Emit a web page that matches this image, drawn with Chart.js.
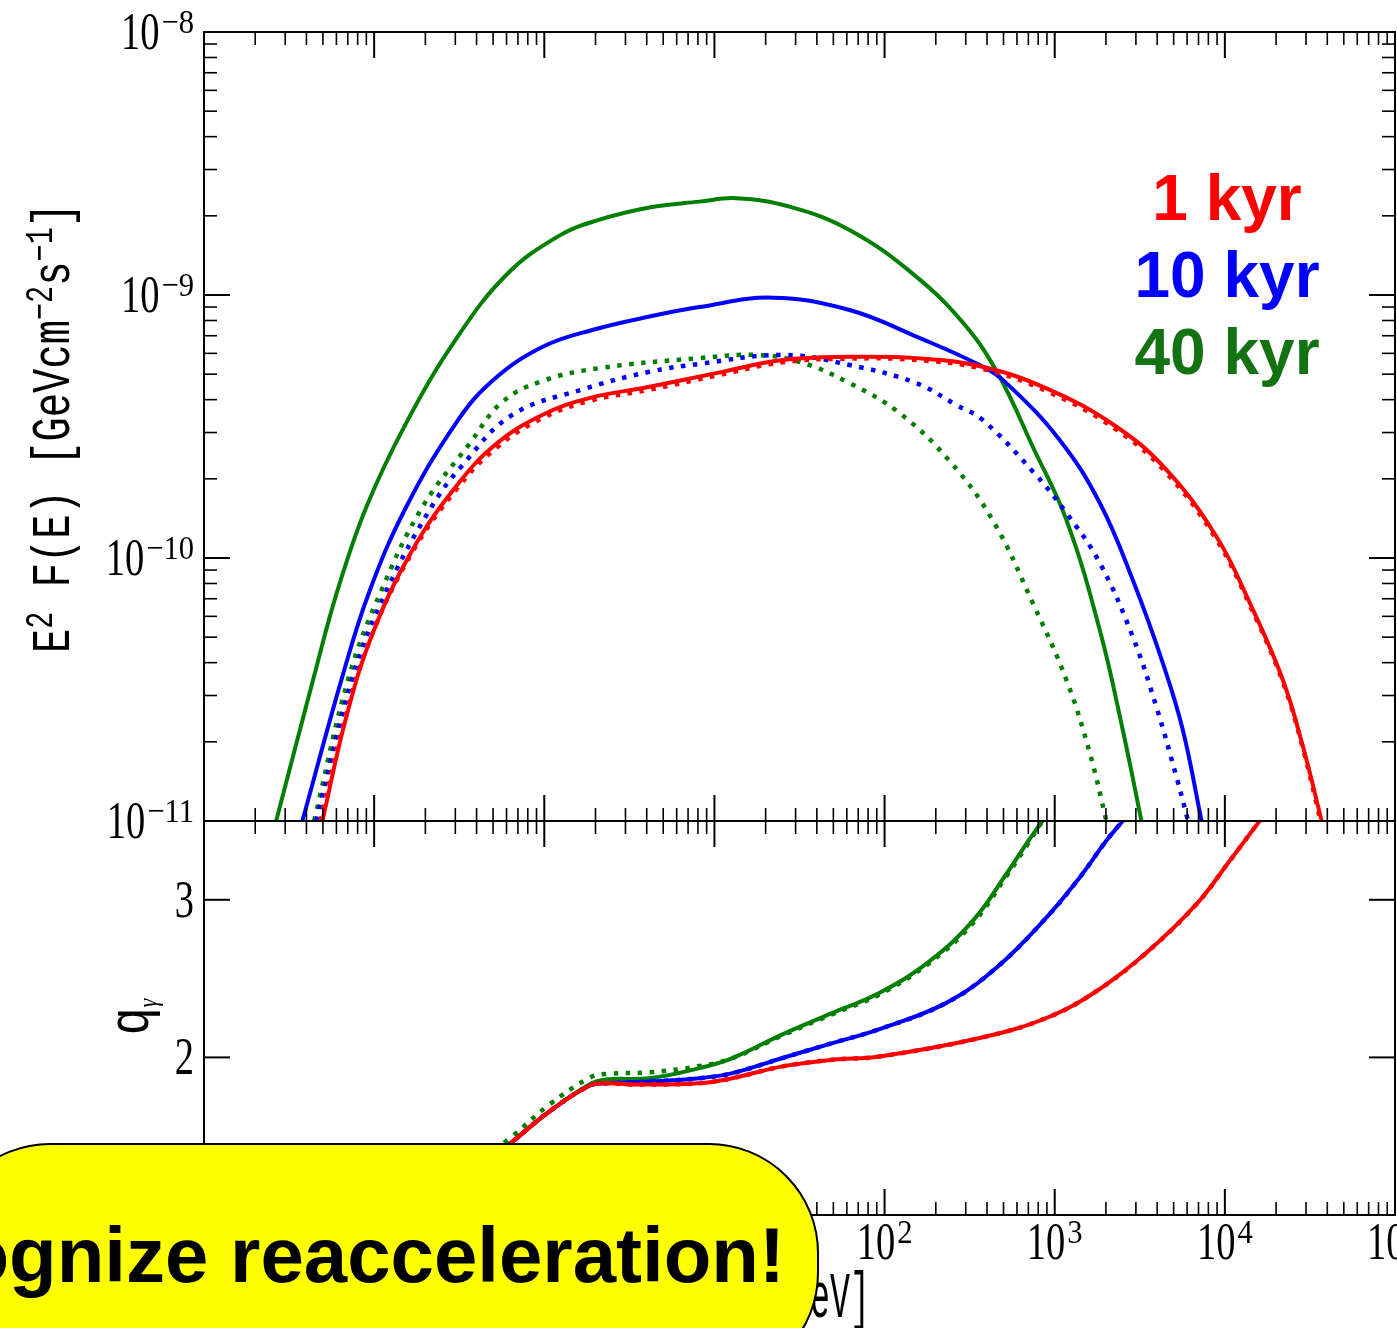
<!DOCTYPE html>
<html>
<head>
<meta charset="utf-8">
<script src="https://cdn.jsdelivr.net/npm/chart.js@4.4.1/dist/chart.umd.min.js"></script>
<style>
  html, body { margin: 0; padding: 0; background: #fff; width: 1397px; height: 1328px; overflow: hidden; }
  canvas { position: absolute; left: 0; top: 0; }
  #callout {
    position: absolute; left: -60px; top: 1143px; width: 879px; height: 240px;
    box-sizing: border-box; background: #ffff00; border: 2px solid #000;
    border-radius: 110px; z-index: 5;
  }
  #calloutText {
    position: absolute; right: 612px; top: 1216px; z-index: 6; color: #000;
    font: bold 78px/78px "Liberation Sans", Arial, sans-serif; white-space: nowrap;
  }
</style>
</head>
<body>
<canvas id="spectrum" width="1397" height="1328"></canvas>
<canvas id="slope" width="1397" height="1328"></canvas>
<div id="callout"></div>
<div id="calloutText">recognize reacceleration!</div>
<script>
// ---- data: log10(E / GeV) and log10(E^2 F) ----
const redSolidE   = [-1.304, -1.166, -1.010, -0.775, -0.519, -0.284, -0.012, 0.265, 0.618, 1.010, 1.400, 1.794, 2.186, 2.576, 2.971, 3.363, 3.657, 3.951, 4.147, 4.341, 4.459, 4.569];
const redSolidF   = [-11.0, -10.610, -10.289, -9.970, -9.728, -9.567, -9.456, -9.392, -9.349, -9.297, -9.247, -9.235, -9.240, -9.273, -9.361, -9.501, -9.665, -9.919, -10.171, -10.464, -10.717, -11.0];
const redDotE     = [-1.315, -1.175, -1.018, -0.782, -0.520, -0.280, -0.010, 0.265, 0.618, 1.010, 1.400, 1.794, 2.186, 2.576, 2.971, 3.363, 3.657, 3.951, 4.147, 4.341, 4.459, 4.563];
const redDotF     = [-11.0, -10.620, -10.300, -9.985, -9.742, -9.580, -9.468, -9.403, -9.360, -9.307, -9.256, -9.242, -9.247, -9.281, -9.371, -9.512, -9.677, -9.930, -10.180, -10.472, -10.725, -11.0];
const blueSolidE  = [-1.422, -1.186, -1.029, -0.813, -0.519, -0.306, -0.012, 0.282, 0.618, 0.912, 1.341, 1.794, 2.186, 2.576, 2.716, 3.029, 3.265, 3.459, 3.635, 3.753, 3.863];
const blueSolidF  = [-11.0, -10.449, -10.129, -9.808, -9.487, -9.327, -9.198, -9.133, -9.082, -9.046, -9.010, -9.057, -9.158, -9.272, -9.335, -9.551, -9.791, -10.084, -10.399, -10.654, -11.0];
const blueDotE    = [-1.341, -1.124, -0.931, -0.665, -0.482, -0.188, 0.224, 0.618, 0.912, 1.400, 1.794, 2.186, 2.421, 2.576, 2.871, 3.069, 3.265, 3.459, 3.598, 3.716, 3.784];
const blueDotF    = [-11.0, -10.449, -10.129, -9.808, -9.648, -9.456, -9.359, -9.292, -9.262, -9.228, -9.266, -9.335, -9.418, -9.475, -9.671, -9.829, -10.019, -10.300, -10.567, -10.833, -11.0];
const greenSolidE = [-1.576, -1.353, -1.218, -1.047, -0.812, -0.518, -0.224, 0.071, 0.306, 0.618, 0.912, 1.128, 1.441, 1.794, 2.186, 2.481, 2.676, 2.871, 3.069, 3.265, 3.400, 3.510];
const greenSolidF = [-11.0, -10.449, -10.129, -9.808, -9.487, -9.167, -8.924, -8.781, -8.717, -8.667, -8.645, -8.632, -8.664, -8.753, -8.930, -9.121, -9.311, -9.577, -9.856, -10.274, -10.654, -11.0];
const greenDotE   = [-1.353, -1.147, -0.961, -0.718, -0.441, -0.247, -0.012, 0.324, 0.912, 1.245, 1.500, 1.794, 2.088, 2.382, 2.635, 2.871, 3.069, 3.206, 3.304];
const greenDotF   = [-11.0, -10.449, -10.129, -9.808, -9.567, -9.407, -9.327, -9.278, -9.240, -9.228, -9.254, -9.335, -9.449, -9.631, -9.856, -10.171, -10.464, -10.741, -11.0];

// ---- lower panel: photon index q_gamma ----
const redQE     = [-0.676, -0.441, -0.188, 0.029, 0.265, 0.363, 0.518, 0.912, 1.106, 1.400, 1.694, 1.971, 2.559, 2.951, 3.245, 3.539, 3.833, 4.029, 4.206];
const redQ      = [1.05, 1.25, 1.465, 1.656, 1.82, 1.836, 1.828, 1.836, 1.868, 1.943, 1.985, 2.006, 2.123, 2.25, 2.42, 2.664, 2.972, 3.248, 3.503];
const blueQE    = [-0.676, -0.441, -0.188, 0.029, 0.265, 0.363, 0.618, 0.912, 1.106, 1.400, 1.694, 1.971, 2.363, 2.657, 2.951, 3.147, 3.304, 3.402];
const blueQ     = [1.05, 1.25, 1.465, 1.656, 1.82, 1.836, 1.847, 1.868, 1.90, 1.996, 2.091, 2.18, 2.346, 2.569, 2.887, 3.142, 3.376, 3.503];
const greenQE   = [-0.676, -0.441, -0.188, 0.029, 0.265, 0.363, 0.618, 0.912, 1.106, 1.400, 1.694, 1.971, 2.265, 2.518, 2.716, 2.833, 2.929];
const greenQ    = [1.05, 1.25, 1.465, 1.656, 1.828, 1.860, 1.868, 1.932, 1.996, 2.146, 2.282, 2.41, 2.611, 2.866, 3.164, 3.355, 3.503];
const greenDotQ = [1.08, 1.29, 1.50, 1.70, 1.87, 1.895, 1.905, 1.945, 1.995, 2.14, 2.275, 2.40, 2.60, 2.85, 3.15, 3.34, 3.503];

// ---- ticks ----
const decadesX   = [1e-2, 1e-1, 1, 10, 100, 1e3, 1e4, 1e5];
const xExpLabels = ['−2', '−1', '0', '1', '2', '3', '4', '5'];
const decadesY   = [1e-11, 1e-10, 1e-9, 1e-8];
const yExpLabels = ['−11', '−10', '−9', '−8'];
const minorSteps = [2, 3, 4, 5, 6, 7, 8, 9];
const qTicks     = [2, 3];
const legendText = ['1 kyr', '10 kyr', '40 kyr'];

const RED = '#ff0000', BLUE = '#0000ff', GREEN = '#007f00';
const LEGEND_COLORS = ['#ff0000', '#0000ff', '#137313'];

const pow10 = v => Math.pow(10, v);
const pts = (xs, ys, logY) => xs.map((v, i) => ({ x: pow10(v), y: logY ? pow10(ys[i]) : ys[i] }));
const minorsOf = decs => decs.slice(0, -1).flatMap(d => minorSteps.map(m => m * d));

function line(data, color, dotted) {
    return {
        data, borderColor: color, borderWidth: dotted ? 4.5 : 4,
        borderDash: dotted ? [4.5, 7.5] : [], borderCapStyle: 'butt',
        pointRadius: 0, fill: false, tension: 0.4, clip: 0
    };
}

// text helpers (the figure is a little squeezed horizontally)
const SQ = 0.74, SQ_EXP = 0.9;
const BASE_FONT = '52px "Liberation Serif", serif';
const EXP_FONT = '34px "Liberation Serif", serif';

function squished(ctx, str, x, y, font, sx) {
    ctx.save();
    ctx.font = font;
    ctx.translate(x, y);
    ctx.scale(sx, 1);
    ctx.fillText(str, 0, 0);
    ctx.restore();
}
function widthOf(ctx, str, font, sx) {
    ctx.save();
    ctx.font = font;
    const w = ctx.measureText(str).width * sx;
    ctx.restore();
    return w;
}
function powerLabel(ctx, exp, x, y, align) {
    const wb = widthOf(ctx, '10', BASE_FONT, SQ);
    const we = widthOf(ctx, exp, EXP_FONT, SQ_EXP);
    const total = wb + 2 + we;
    const x0 = align === 'right' ? x - total : x - total / 2;
    squished(ctx, '10', x0, y, BASE_FONT, SQ);
    squished(ctx, exp, x0 + wb + 2, y - 16, EXP_FONT, SQ_EXP);
}
function rotatedRuns(ctx, runs, cx, cy, along) {
    ctx.save();
    ctx.translate(cx, cy);
    ctx.rotate(-Math.PI / 2);
    ctx.scale(along, 1);
    let total = 0;
    runs.forEach(r => { ctx.font = r.font; total += ctx.measureText(r.t).width; });
    let pos = -total / 2;
    runs.forEach(r => {
        ctx.font = r.font;
        ctx.fillText(r.t, pos, r.dy || 0);
        pos += ctx.measureText(r.t).width;
    });
    ctx.restore();
}

// frame + inward ticks, drawn through the chart's own scales
function framePlugin(cfg) {
    return {
        id: 'frame_' + cfg.name,
        afterDraw(chart) {
            const { ctx, chartArea: a } = chart;
            const sx = chart.scales.x, sy = chart.scales.y;
            ctx.save();
            ctx.strokeStyle = '#000';
            const seg = (x1, y1, x2, y2, w) => {
                ctx.lineWidth = w;
                ctx.beginPath(); ctx.moveTo(x1, y1); ctx.lineTo(x2, y2); ctx.stroke();
            };
            decadesX.forEach(v => {
                const p = sx.getPixelForValue(v);
                seg(p, a.top, p, a.top + 26, 2);
                seg(p, a.bottom, p, a.bottom - 26, 2);
            });
            minorsOf(decadesX).forEach(v => {
                const p = sx.getPixelForValue(v);
                seg(p, a.top, p, a.top + 13, 1.6);
                seg(p, a.bottom, p, a.bottom - 13, 1.6);
            });
            cfg.yMajor.forEach(v => {
                const p = sy.getPixelForValue(v);
                seg(a.left, p, a.left + 26, p, 2);
                seg(a.right, p, a.right - 26, p, 2);
            });
            cfg.yMinor.forEach(v => {
                const p = sy.getPixelForValue(v);
                seg(a.left, p, a.left + 13, p, 1.6);
                seg(a.right, p, a.right - 13, p, 1.6);
            });
            ctx.lineWidth = 2;
            ctx.strokeRect(a.left, a.top, a.right - a.left, a.bottom - a.top);
            ctx.fillStyle = '#000';
            ctx.textAlign = 'left';
            ctx.textBaseline = 'alphabetic';
            cfg.labels(ctx, chart);
            ctx.restore();
        }
    };
}

function options(padding, yScale) {
    return {
        responsive: false, animation: false, devicePixelRatio: 1, events: [],
        layout: { padding },
        plugins: { legend: { display: false }, tooltip: { enabled: false } },
        scales: {
            x: { type: 'logarithmic', min: 1e-2, max: 1e5, display: false },
            y: Object.assign({ display: false }, yScale)
        }
    };
}

// ---- upper panel ----
new Chart(document.getElementById('spectrum'), {
    type: 'line',
    data: {
        datasets: [
            line(pts(redSolidE, redSolidF, true), RED, false),
            line(pts(redDotE, redDotF, true), RED, true),
            line(pts(blueSolidE, blueSolidF, true), BLUE, false),
            line(pts(blueDotE, blueDotF, true), BLUE, true),
            line(pts(greenSolidE, greenSolidF, true), GREEN, false),
            line(pts(greenDotE, greenDotF, true), GREEN, true)
        ]
    },
    options: options({ left: 204, right: 2, top: 32, bottom: 507 },
        { type: 'logarithmic', min: 1e-11, max: 1e-8 }),
    plugins: [framePlugin({
        name: 'top',
        yMajor: decadesY,
        yMinor: minorsOf(decadesY),
        labels(ctx, chart) {
            const sy = chart.scales.y;
            decadesY.forEach((v, i) => powerLabel(ctx, yExpLabels[i], 194, sy.getPixelForValue(v) + 17, 'right'));
            const base = '54px "Liberation Mono", monospace';
            const sup = '38px "Liberation Mono", monospace';
            rotatedRuns(ctx, [
                { t: 'E', font: base }, { t: '2', font: sup, dy: -17 },
                { t: ' F(E) [GeVcm', font: base }, { t: '−2', font: sup, dy: -17 },
                { t: 's', font: base }, { t: '−1', font: sup, dy: -17 },
                { t: ']', font: base }
            ], 69, 428, 0.75);
            ctx.font = 'bold 64px "Liberation Sans", Arial, sans-serif';
            ctx.textAlign = 'center';
            [220, 297, 374].forEach((yb, i) => {
                ctx.fillStyle = LEGEND_COLORS[i];
                ctx.fillText(legendText[i], 1227, yb);
            });
        }
    })]
});

// ---- lower panel ----
new Chart(document.getElementById('slope'), {
    type: 'line',
    data: {
        datasets: [
            line(pts(redQE, redQ, false), RED, false),
            line(pts(redQE, redQ, false), RED, true),
            line(pts(blueQE, blueQ, false), BLUE, false),
            line(pts(blueQE, blueQ, false), BLUE, true),
            line(pts(greenQE, greenQ, false), GREEN, false),
            line(pts(greenQE, greenDotQ, false), GREEN, true)
        ]
    },
    options: options({ left: 204, right: 2, top: 821, bottom: 113 },
        { type: 'linear', min: 1, max: 3.5 }),
    plugins: [framePlugin({
        name: 'bottom',
        yMajor: qTicks,
        yMinor: [],
        labels(ctx, chart) {
            const sx = chart.scales.x, sy = chart.scales.y;
            qTicks.forEach(v => {
                const s = String(v);
                squished(ctx, s, 194 - widthOf(ctx, s, BASE_FONT, SQ), sy.getPixelForValue(v) + 17, BASE_FONT, SQ);
            });
            decadesX.forEach((v, i) => powerLabel(ctx, xExpLabels[i], sx.getPixelForValue(v), 1259, 'center'));
            rotatedRuns(ctx, [
                { t: 'q', font: '58px "Liberation Mono", monospace' },
                { t: 'γ', font: 'italic 28px "Liberation Serif", serif', dy: 9 }
            ], 148, 1017, 0.8);
            const title = 'E [GeV]';
            const tf = '64px "Liberation Mono", monospace';
            squished(ctx, title, 800 - widthOf(ctx, title, tf, 0.52) / 2, 1317, tf, 0.52);
        }
    })]
});
</script>
</body>
</html>
